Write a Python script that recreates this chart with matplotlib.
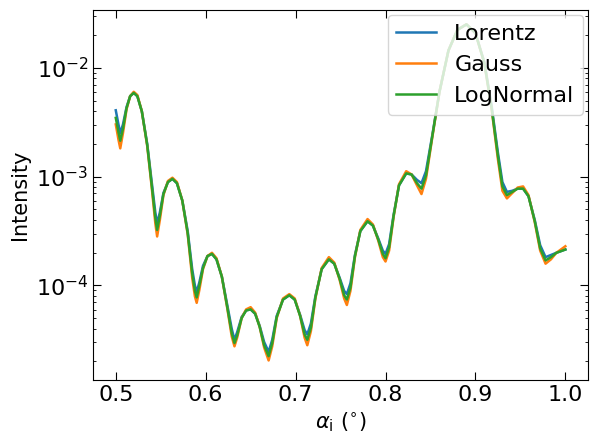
import numpy as np
import matplotlib
matplotlib.use("Agg")
import matplotlib.pyplot as plt

alpha = [0.5, 0.503, 0.505, 0.508, 0.512, 0.516, 0.52,
         0.524, 0.529, 0.535, 0.540, 0.544, 0.546, 0.549, 0.553, 0.558, 0.563,
         0.568, 0.574, 0.580, 0.585, 0.588, 0.590, 0.593, 0.597, 0.602, 0.607,
         0.612, 0.618, 0.624, 0.629, 0.632, 0.635, 0.640, 0.645, 0.650,
         0.655, 0.660, 0.665, 0.670, 0.674, 0.679, 0.686, 0.693,
         0.699, 0.705, 0.710, 0.713, 0.717, 0.722, 0.729, 0.737,
         0.743, 0.749, 0.754, 0.757, 0.761, 0.766, 0.772, 0.780,
         0.786, 0.792, 0.797, 0.800, 0.804, 0.809, 0.815, 0.823,
         0.829, 0.835, 0.840, 0.845, 0.852, 0.860, 0.870, 0.880, 0.890,
         0.900, 0.910, 0.918, 0.925, 0.930, 0.935, 0.941, 0.947, 0.953,
         0.959, 0.966, 0.972, 0.978, 0.984, 0.990, 1.0]

log_lorentz = [-2.39, -2.52, -2.60, -2.52, -2.36, -2.26, -2.23,
               -2.26, -2.40, -2.70, -3.05, -3.33, -3.43, -3.33, -3.15, -3.05, -3.02,
               -3.06, -3.22, -3.50, -3.85, -4.00, -4.06, -3.97, -3.82, -3.73, -3.71,
               -3.76, -3.92, -4.18, -4.40, -4.50, -4.43, -4.29, -4.23, -4.22,
               -4.26, -4.37, -4.52, -4.61, -4.50, -4.28, -4.13, -4.09,
               -4.13, -4.27, -4.41, -4.45, -4.35, -4.10, -3.85, -3.76,
               -3.80, -3.93, -4.05, -4.08, -3.98, -3.72, -3.50, -3.41,
               -3.45, -3.57, -3.68, -3.71, -3.62, -3.35, -3.08, -2.97,
               -2.98, -3.03, -3.06, -2.95, -2.62, -2.22, -1.84, -1.65, -1.60,
               -1.68, -1.95, -2.35, -2.78, -3.05, -3.14, -3.13, -3.11, -3.11,
               -3.18, -3.40, -3.63, -3.74, -3.72, -3.70, -3.67]

log_gauss = [-2.52, -2.66, -2.74, -2.60, -2.38, -2.26, -2.22,
             -2.25, -2.40, -2.72, -3.10, -3.43, -3.55, -3.40, -3.17, -3.04, -3.01,
             -3.05, -3.22, -3.53, -3.93, -4.10, -4.16, -4.04, -3.85, -3.73, -3.70,
             -3.75, -3.92, -4.21, -4.47, -4.56, -4.48, -4.30, -4.22, -4.20,
             -4.25, -4.38, -4.57, -4.69, -4.56, -4.30, -4.12, -4.08,
             -4.12, -4.28, -4.48, -4.55, -4.42, -4.12, -3.84, -3.74,
             -3.79, -3.95, -4.12, -4.18, -4.05, -3.74, -3.49, -3.39,
             -3.44, -3.59, -3.74, -3.78, -3.68, -3.37, -3.07, -2.95,
             -2.98, -3.08, -3.16, -3.02, -2.64, -2.22, -1.84, -1.65, -1.60,
             -1.68, -1.96, -2.38, -2.84, -3.13, -3.20, -3.15, -3.10, -3.09,
             -3.17, -3.42, -3.68, -3.80, -3.76, -3.70, -3.64]

log_lognormal = [-2.46, -2.59, -2.67, -2.56, -2.37, -2.26, -2.23,
                 -2.26, -2.40, -2.71, -3.08, -3.38, -3.49, -3.36, -3.16, -3.05, -3.02,
                 -3.06, -3.22, -3.52, -3.89, -4.05, -4.11, -4.00, -3.84, -3.73, -3.71,
                 -3.76, -3.92, -4.20, -4.44, -4.53, -4.46, -4.30, -4.23, -4.22,
                 -4.26, -4.38, -4.55, -4.65, -4.53, -4.29, -4.13, -4.09,
                 -4.13, -4.28, -4.45, -4.50, -4.39, -4.11, -3.85, -3.76,
                 -3.80, -3.94, -4.09, -4.13, -4.02, -3.73, -3.50, -3.41,
                 -3.45, -3.58, -3.71, -3.75, -3.65, -3.36, -3.08, -2.97,
                 -2.98, -3.06, -3.11, -2.99, -2.63, -2.22, -1.84, -1.65, -1.60,
                 -1.68, -1.96, -2.37, -2.81, -3.09, -3.17, -3.14, -3.11, -3.11,
                 -3.18, -3.41, -3.66, -3.77, -3.74, -3.70, -3.67]

plt.rcParams['font.size'] = 16
fig = plt.figure(figsize=(5.98, 4.44), dpi=100)
ax = fig.add_axes([0.156, 0.144, 0.827, 0.833])
ax.plot(alpha, 10 ** np.array(log_lorentz), color='#1f77b4', lw=1.8, label='Lorentz')
ax.plot(alpha, 10 ** np.array(log_gauss), color='#ff7f0e', lw=1.8, label='Gauss')
ax.plot(alpha, 10 ** np.array(log_lognormal), color='#2ca02c', lw=1.8, label='LogNormal')
ax.set_yscale('log')
ax.set_xlim(0.475, 1.025)
ax.set_ylim(10 ** -4.87, 10 ** -1.47)
ax.set_xticks([0.5, 0.6, 0.7, 0.8, 0.9, 1.0])
ax.tick_params(which='both', direction='in', top=True, right=True)
ax.tick_params(which='major', length=6)
ax.set_xlabel(r'$\alpha_\mathrm{i}$ ($^{\circ}$)', fontsize=15)
ax.set_ylabel('Intensity', fontsize=15)
ax.legend(loc='upper right', fontsize=16, handlelength=1.8, borderaxespad=0.2)
fig.savefig('out.png', dpi=100)
